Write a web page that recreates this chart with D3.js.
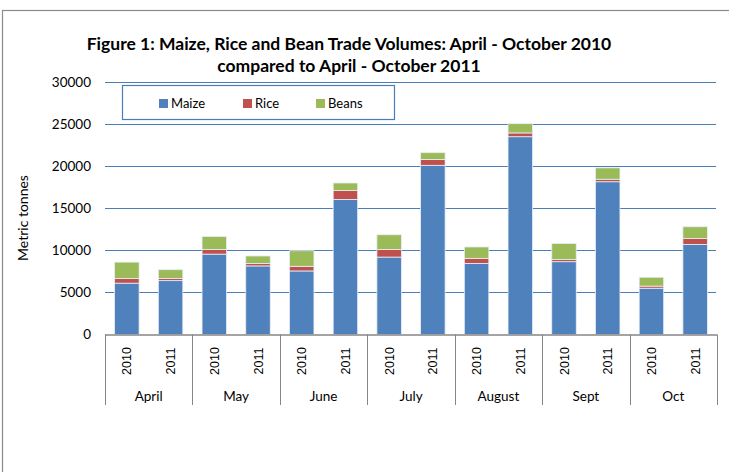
<!DOCTYPE html>
<html><head><meta charset="utf-8">
<script src="https://cdn.jsdelivr.net/npm/d3@7"></script>
<style>body{margin:0;background:#fff}svg{display:block}</style>
</head><body><svg id="c" width="729" height="472"></svg>
<script>
const months = ["April","May","June","July","August","Sept","Oct"];
const years = ["2010","2011"];
const seriesNames = ["Maize","Rice","Beans"];
const colors = ["#4F81BD","#C0504D","#9BBB59"];
// values per month, [2010, 2011]
const maize = [[6100,6400],[9550,8150],[7550,16050],[9200,20100],[8450,23500],[8650,18150],[5500,10700]];
const rice  = [[550,250],[550,300],[550,1050],[900,700],[600,450],[250,300],[250,700]];
const beans = [[1950,1050],[1550,880],[1850,900],[1750,800],[1350,1100],[1900,1350],[1050,1400]];
const yTicks = [0,5000,10000,15000,20000,25000,30000];
const titleLines = ["Figure 1: Maize, Rice and Bean Trade Volumes: April - October 2010","compared to April - October 2011"];

const svg = d3.select("#c");
const L = 105, R = 717, T = 82, B = 334.5;
svg.append("rect").attr("x",2.5).attr("y",10.5).attr("width",800).attr("height",600)
  .attr("fill","#fff").attr("stroke","#8c8c8c").attr("stroke-width",1.2);

const y = d3.scaleLinear().domain([0,30000]).range([B,T]);
const x0 = d3.scaleBand().domain(months).range([L,R]).padding(0);
const x1 = d3.scaleBand().domain(years).range([0,x0.bandwidth()]).paddingInner(0.44).paddingOuter(0.22);

// gridlines
svg.append("g").selectAll("line").data(yTicks.filter(d=>d>0)).join("line")
  .attr("x1",L).attr("x2",R-1).attr("y1",d=>Math.round(y(d))+0.5).attr("y2",d=>Math.round(y(d))+0.5)
  .attr("stroke","#4A7EBB").attr("stroke-width",1.2);
// y labels
svg.append("g").selectAll("text").data(yTicks).join("text")
  .attr("x",91).attr("y",d=>y(d)).attr("dy","0.35em").attr("text-anchor","end")
  .attr("font-family","Lato, Carlito, sans-serif").attr("font-size",13.5).attr("fill","#000")
  .text(d=>d);
svg.append("text").attr("transform","translate(28,218) rotate(-90)").attr("text-anchor","middle")
  .attr("font-family","Lato, Carlito, sans-serif").attr("font-size",14).text("Metric tonnes");

// stacked bars
const rows = [];
months.forEach((m,i)=>years.forEach((yr,j)=>{
  rows.push({month:m, year:yr, Maize:maize[i][j], Rice:rice[i][j], Beans:beans[i][j]});
}));
const stack = d3.stack().keys(seriesNames)(rows);
svg.append("g").selectAll("g").data(stack).join("g").attr("fill",(d,i)=>colors[i])
  .selectAll("rect").data(d=>d).join("rect")
  .attr("x",d=>x0(d.data.month)+x1(d.data.year))
  .attr("width",x1.bandwidth())
  .attr("y",d=>y(d[1])).attr("height",d=>y(d[0])-y(d[1]))
  .attr("stroke","#e8eef6").attr("stroke-width",0.8);

// x axis
svg.append("line").attr("x1",L).attr("x2",R).attr("y1",B+0.5).attr("y2",B+0.5).attr("stroke","#868686").attr("stroke-width",1.5);
svg.append("g").selectAll("line").data(d3.range(months.length+1)).join("line")
  .attr("x1",i=>Math.round(L+i*x0.step())+0.5).attr("x2",i=>Math.round(L+i*x0.step())+0.5)
  .attr("y1",B).attr("y2",405).attr("stroke","#868686").attr("stroke-width",1);
svg.append("g").selectAll("text").data(rows).join("text")
  .attr("transform",d=>`translate(${x0(d.month)+x1(d.year)+x1.bandwidth()/2+4.5},361) rotate(-90)`)
  .attr("text-anchor","middle").attr("font-family","'Liberation Sans', Arial, sans-serif").attr("font-size",12.5)
  .text(d=>d.year);
svg.append("g").selectAll("text").data(months).join("text")
  .attr("x",d=>x0(d)+x0.bandwidth()/2).attr("y",401).attr("text-anchor","middle")
  .attr("font-family","Lato, Carlito, sans-serif").attr("font-size",13.5).text(d=>d);

// title
svg.append("g").selectAll("text").data(titleLines).join("text")
  .attr("x",349).attr("y",(d,i)=>50+i*22).attr("text-anchor","middle")
  .attr("font-family","Lato, Carlito, sans-serif").attr("font-weight","bold").attr("font-size",17.5)
  .text(d=>d);

// legend
svg.append("rect").attr("x",122.5).attr("y",85.5).attr("width",272).attr("height",34)
  .attr("fill","#fff").attr("stroke","#4A7EBB").attr("stroke-width",1.2);
const legX = [159,243,316];
const lg = svg.append("g").selectAll("g").data(seriesNames).join("g")
  .attr("transform",(d,i)=>`translate(${legX[i]},99)`);
lg.append("rect").attr("width",9).attr("height",9).attr("fill",(d,i)=>colors[i]);
lg.append("text").attr("x",12).attr("y",4.5).attr("dy","0.35em")
  .attr("font-family","Lato, Carlito, sans-serif").attr("font-size",13).text(d=>d);
</script></body></html>
